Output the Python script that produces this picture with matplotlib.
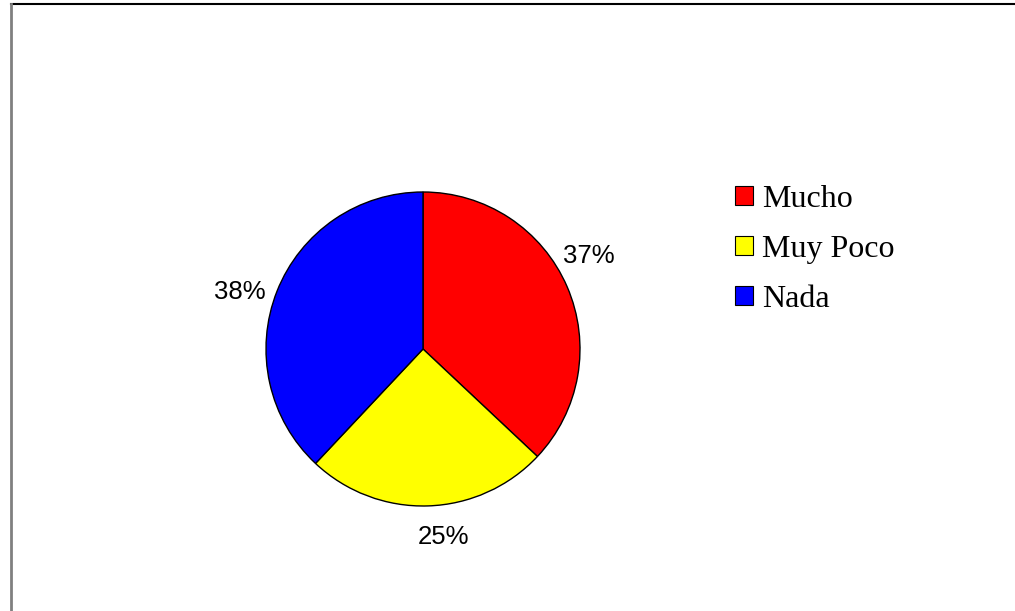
import matplotlib.pyplot as plt
from matplotlib.lines import Line2D
from matplotlib.patches import Patch

categories = ['Mucho', 'Muy Poco', 'Nada']
values = [37, 25, 38]
colors = ['#ff0000', '#ffff00', '#0000ff']

W, H = 1015, 611
fig = plt.figure(figsize=(W / 100, H / 100), dpi=100)
ax = fig.add_axes([0, 0, 1, 1])

# pie in pixel coordinates
wedges, texts, autotexts = ax.pie(
    values, colors=colors, startangle=90, counterclock=False,
    center=(423, H - 349), radius=157, frame=True,
    autopct='%1.0f%%', pctdistance=1.2,
    wedgeprops=dict(edgecolor='black', linewidth=1),
    textprops=dict(family='Liberation Sans', fontsize=18.5, color='black'))
ax.set_xlim(0, W)
ax.set_ylim(0, H)
ax.set_aspect('equal')
ax.axis('off')

# nudge the percent labels the way the original places them
label_shift = [(-7, 18), (15, 0), (-8, -12)]
for t, (dx, dy) in zip(autotexts, label_shift):
    x, y = t.get_position()
    t.set_position((x + dx, y + dy))

# frame lines (top black, left grey)
fig.add_artist(Line2D([11 / W, 1], [1 - 4 / H, 1 - 4 / H], color='black', lw=1.5))
fig.add_artist(Line2D([11 / W, 11 / W], [0, 1 - 4 / H], color='#808080', lw=2))

handles = [Patch(facecolor=c, edgecolor='black', linewidth=0.8) for c in colors]
leg = ax.legend(handles, categories, loc='upper left',
                bbox_to_anchor=(735, H - 185), bbox_transform=ax.transData,
                frameon=False, prop=dict(family='Liberation Serif', size=23),
                handlelength=0.55, handleheight=0.55, handletextpad=0.3,
                labelspacing=0.65, borderpad=0, borderaxespad=0)

plt.savefig('out.png', dpi=100)
